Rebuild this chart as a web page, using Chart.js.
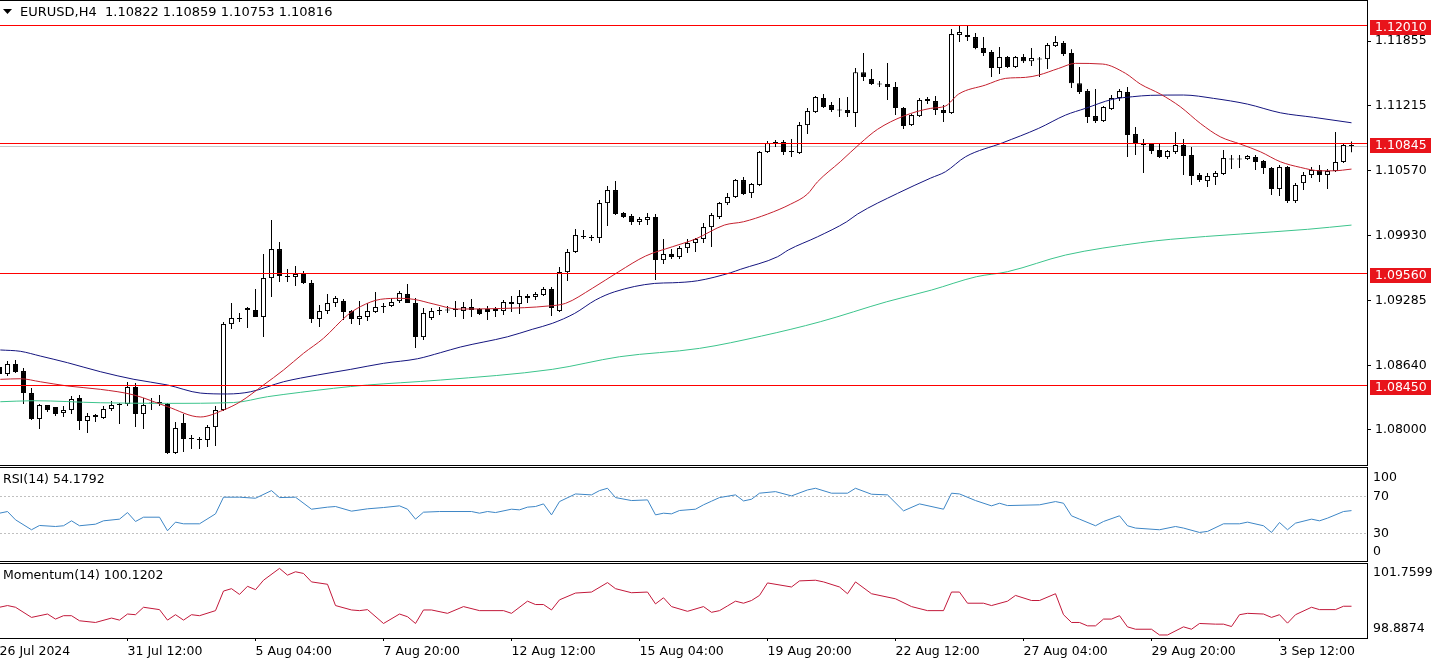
<!DOCTYPE html>
<html>
<head>
<meta charset="utf-8">
<title>EURUSD,H4</title>
<script src="https://cdn.jsdelivr.net/npm/chart.js@4.4.1/dist/chart.umd.min.js"></script>
<style>
  html, body { margin: 0; padding: 0; background: #fff; overflow: hidden; }
  #wrap { position: relative; width: 1435px; height: 660px; background: #fff; }
  #wrap canvas { position: absolute; left: 0; }
</style>
</head>
<body>
<div id="wrap">
  <canvas id="mainChart" width="1435" height="466" style="top:0"></canvas>
  <canvas id="rsiChart" width="1435" height="95" style="top:467px"></canvas>
  <canvas id="momChart" width="1435" height="97" style="top:563px"></canvas>
</div>
<script>
const symbolName = 'EURUSD,H4';

// time axis: one label every 16 H4 bars
const timeLabels = ['26 Jul 2024', '31 Jul 12:00', '5 Aug 04:00', '7 Aug 20:00', '12 Aug 12:00',
  '15 Aug 04:00', '19 Aug 20:00', '22 Aug 12:00', '27 Aug 04:00', '29 Aug 20:00', '3 Sep 12:00'];
const timeLabelBars = [0, 16, 32, 48, 64, 80, 96, 112, 128, 144, 160];

const priceTicks = [1.08000, 1.08640, 1.09285, 1.09930, 1.10570, 1.11215, 1.11855];
const levels = [1.12010, 1.10845, 1.09560, 1.08450];

const opens = [
  1.08624,1.08555,1.08654,1.08584,1.08366,1.08109,1.08247,1.08228,1.08168,1.08198,
  1.08317,1.08089,1.08148,1.08119,1.08208,1.08257,1.08257,1.08426,1.08158,1.08262,
  1.08267,1.08257,1.07772,1.08069,1.07911,1.07911,1.07901,1.08029,1.08198,1.09050,
  1.09100,1.09209,1.09189,1.09120,1.09506,1.09793,1.09521,1.09516,1.09546,1.09456,
  1.09100,1.09179,1.09258,1.09278,1.09179,1.09100,1.09120,1.09169,1.09219,1.09229,
  1.09278,1.09347,1.09258,1.08921,1.09110,1.09179,1.09184,1.09189,1.09179,1.09219,
  1.09199,1.09199,1.09199,1.09179,1.09268,1.09248,1.09328,1.09318,1.09338,1.09397,
  1.09179,1.09565,1.09764,1.09917,1.09907,1.09902,1.10249,1.10378,1.10150,1.10120,
  1.10061,1.10081,1.10111,1.09684,1.09744,1.09714,1.09803,1.09853,1.09893,1.10011,
  1.10111,1.10249,1.10309,1.10477,1.10348,1.10428,1.10755,1.10844,1.10854,1.10760,
  1.10745,1.11022,1.11151,1.11290,1.11220,1.11171,1.11171,1.11141,1.11547,1.11478,
  1.11429,1.11429,1.11399,1.11191,1.11022,1.11111,1.11280,1.11260,1.11171,1.11141,
  1.11914,1.11914,1.11894,1.11785,1.11746,1.11587,1.11696,1.11597,1.11696,1.11656,
  1.11671,1.11676,1.11805,1.11835,1.11736,1.11438,1.11359,1.11111,1.11062,1.11181,
  1.11290,1.11349,1.10933,1.10834,1.10834,1.10775,1.10705,1.10755,1.10824,1.10725,
  1.10527,1.10467,1.10507,1.10537,1.10680,1.10685,1.10685,1.10705,1.10665,1.10596,
  1.10388,1.10606,1.10269,1.10447,1.10527,1.10576,1.10527,1.10566,1.10656,1.10822];
const highs = [
  1.08674,1.08683,1.08693,1.08614,1.08416,1.08257,1.08247,1.08228,1.08238,1.08337,
  1.08347,1.08168,1.08158,1.08238,1.08287,1.08267,1.08475,1.08465,1.08317,1.08317,
  1.08347,1.08267,1.08079,1.08158,1.07950,1.07930,1.08049,1.08238,1.09070,1.09258,
  1.09159,1.09219,1.09397,1.09744,1.10081,1.09863,1.09595,1.09625,1.09575,1.09486,
  1.09238,1.09347,1.09328,1.09298,1.09189,1.09278,1.09258,1.09367,1.09258,1.09308,
  1.09377,1.09447,1.09308,1.09209,1.09209,1.09219,1.09229,1.09278,1.09268,1.09298,
  1.09209,1.09229,1.09219,1.09288,1.09328,1.09387,1.09347,1.09367,1.09417,1.09417,
  1.09615,1.09793,1.09992,1.09982,1.09932,1.10279,1.10418,1.10467,1.10160,1.10140,
  1.10111,1.10150,1.10140,1.09893,1.09793,1.09823,1.09893,1.09902,1.10051,1.10150,
  1.10259,1.10348,1.10487,1.10507,1.10447,1.10765,1.10864,1.10874,1.10874,1.10884,
  1.11052,1.11191,1.11310,1.11329,1.11250,1.11290,1.11300,1.11587,1.11736,1.11577,
  1.11458,1.11637,1.11448,1.11201,1.11131,1.11290,1.11300,1.11310,1.11220,1.11974,
  1.12013,1.12003,1.11934,1.11894,1.11766,1.11795,1.11706,1.11706,1.11726,1.11785,
  1.11696,1.11835,1.11904,1.11855,1.11775,1.11597,1.11379,1.11379,1.11211,1.11320,
  1.11379,1.11399,1.11002,1.10884,1.10844,1.10834,1.10775,1.10953,1.10884,1.10804,
  1.10547,1.10547,1.10566,1.10775,1.10725,1.10725,1.10725,1.10725,1.10675,1.10606,
  1.10626,1.10616,1.10447,1.10556,1.10606,1.10626,1.10586,1.10953,1.10834,1.10859];
const lows = [
  1.08515,1.08535,1.08565,1.08257,1.08099,1.08010,1.08178,1.08138,1.08129,1.08158,
  1.08000,1.07970,1.08079,1.08109,1.08188,1.08059,1.08238,1.08029,1.08010,1.08198,
  1.08238,1.07762,1.07762,1.07782,1.07811,1.07811,1.07831,1.07841,1.08188,1.09001,
  1.09070,1.09011,1.09120,1.08921,1.09318,1.09466,1.09466,1.09427,1.09447,1.09060,
  1.09020,1.09149,1.09219,1.09090,1.09050,1.09040,1.09080,1.09159,1.09159,1.09219,
  1.09258,1.09258,1.08812,1.08892,1.09090,1.09139,1.09159,1.09120,1.09100,1.09120,
  1.09139,1.09090,1.09120,1.09139,1.09169,1.09149,1.09258,1.09288,1.09328,1.09129,
  1.09169,1.09476,1.09754,1.09893,1.09873,1.09853,1.10021,1.10130,1.10101,1.10031,
  1.10031,1.10031,1.09486,1.09645,1.09694,1.09694,1.09754,1.09764,1.09853,1.09813,
  1.10091,1.10229,1.10299,1.10329,1.10299,1.10418,1.10745,1.10804,1.10725,1.10705,
  1.10735,1.10933,1.11141,1.11191,1.11151,1.11102,1.11102,1.11002,1.11458,1.11419,
  1.11399,1.11270,1.11121,1.10983,1.11012,1.11102,1.11230,1.11121,1.11052,1.11131,
  1.11845,1.11855,1.11775,1.11706,1.11498,1.11528,1.11587,1.11587,1.11637,1.11607,
  1.11498,1.11577,1.11795,1.11706,1.11389,1.11329,1.11042,1.11042,1.11052,1.11171,
  1.11260,1.10705,1.10725,1.10547,1.10735,1.10695,1.10685,1.10735,1.10527,1.10428,
  1.10457,1.10408,1.10428,1.10527,1.10586,1.10596,1.10675,1.10576,1.10537,1.10329,
  1.10319,1.10249,1.10249,1.10378,1.10497,1.10457,1.10388,1.10556,1.10646,1.10753];
const closes = [
  1.08555,1.08654,1.08574,1.08366,1.08109,1.08247,1.08198,1.08158,1.08198,1.08307,
  1.08089,1.08138,1.08129,1.08208,1.08247,1.08247,1.08426,1.08158,1.08247,1.08267,
  1.08277,1.07772,1.08020,1.07911,1.07915,1.07901,1.08029,1.08198,1.09050,1.09110,
  1.09110,1.09189,1.09120,1.09506,1.09793,1.09526,1.09516,1.09546,1.09456,1.09100,
  1.09179,1.09258,1.09308,1.09169,1.09100,1.09129,1.09179,1.09219,1.09224,1.09268,
  1.09357,1.09258,1.08921,1.09159,1.09179,1.09184,1.09189,1.09199,1.09219,1.09189,
  1.09149,1.09169,1.09179,1.09268,1.09248,1.09328,1.09308,1.09347,1.09397,1.09209,
  1.09565,1.09764,1.09932,1.09912,1.09902,1.10249,1.10378,1.10140,1.10111,1.10061,
  1.10091,1.10111,1.09684,1.09744,1.09714,1.09803,1.09853,1.09893,1.10011,1.10130,
  1.10249,1.10309,1.10477,1.10338,1.10438,1.10755,1.10844,1.10849,1.10755,1.10755,
  1.11022,1.11161,1.11300,1.11201,1.11171,1.11166,1.11141,1.11547,1.11498,1.11429,
  1.11424,1.11399,1.11191,1.11012,1.11121,1.11270,1.11260,1.11171,1.11141,1.11924,
  1.11944,1.11894,1.11785,1.11736,1.11587,1.11696,1.11597,1.11696,1.11656,1.11686,
  1.11676,1.11815,1.11845,1.11726,1.11438,1.11349,1.11102,1.11062,1.11201,1.11290,
  1.11359,1.10923,1.10834,1.10824,1.10765,1.10705,1.10765,1.10824,1.10715,1.10517,
  1.10477,1.10517,1.10547,1.10695,1.10685,1.10680,1.10715,1.10656,1.10596,1.10388,
  1.10606,1.10269,1.10428,1.10527,1.10576,1.10527,1.10566,1.10656,1.10824,1.10816];

// moving averages (bar position, price)
const maRedBars = [0.1,2.6,5.1,8.5,12.6,16.8,21,25.1,28,30.1,33,35.5,38,40.5,43.5,45.1,47.6,50.1,51.8,54.3,
  57.3,62.6,68.6,70.75,74.1,77.4,80.75,84.1,87,90.6,93,96,98.9,101,102.25,105.1,107.6,109.75,113,116.4,
  118.25,119.9,123.25,125.75,128.25,129.9,132.4,134.5,137.9,140.75,142.6,145.1,147.6,150.1,152.6,155.1,157.6,160.1,162.6,165.1,
  166.75,169];
const maRedVals = [1.08502,1.08508,1.08478,1.08436,1.08403,1.08347,1.08231,1.08129,1.08198,1.08280,
  1.08446,1.08594,1.08760,1.08909,1.09139,1.09222,1.09295,1.09305,1.09295,1.09248,
  1.09199,1.09204,1.09229,1.09255,1.09404,1.09569,1.09724,1.09816,1.09893,1.10031,
  1.10064,1.10140,1.10239,1.10339,1.10460,1.10659,1.10841,1.10980,1.11111,1.11188,
  1.11211,1.11330,1.11419,1.11485,1.11495,1.11518,1.11584,1.11634,1.11627,1.11535,
  1.11429,1.11330,1.11204,1.11039,1.10906,1.10834,1.10758,1.10659,1.10603,1.10569,
  1.10569,1.10586];
const maBlueBars = [0.1,2.6,5.1,8.5,12.6,16.8,21,25.1,28.5,31.4,35.5,39.75,43.9,48,52.25,55.1,57.6,63.5,66.6,69.1,
  71.9,74.5,76.9,81.9,84.1,87.25,91.4,92.6,97.25,98.6,102.25,105.9,107.25,112.25,116.4,118.25,120.75,125.4,129.9,133.25,
  135.75,139.1,141.6,143.9,148,151.75,156,160.1,164.25,169];
const maBlueVals = [1.08793,1.08780,1.08733,1.08667,1.08578,1.08502,1.08446,1.08366,1.08357,1.08379,
  1.08478,1.08545,1.08601,1.08661,1.08706,1.08766,1.08822,1.08924,1.08998,1.09057,
  1.09156,1.09288,1.09370,1.09453,1.09459,1.09479,1.09559,1.09592,1.09717,1.09784,
  1.09915,1.10064,1.10140,1.10345,1.10497,1.10560,1.10708,1.10847,1.10990,1.11121,
  1.11188,1.11277,1.11303,1.11317,1.11320,1.11287,1.11230,1.11144,1.11099,1.11045];
const maGreenBars = [0.1,4.25,12.6,21,29.25,33.5,37.6,41.75,46,50.1,55.1,69.1,77.5,87.5,95.25,102.6,110.9,116.5,122.1,126,
  133.25,142.6,146.4,155.1,163.5,169];
const maGreenVals = [1.08280,1.08290,1.08270,1.08264,1.08272,1.08330,1.08373,1.08413,1.08446,1.08468,
  1.08495,1.08601,1.08726,1.08809,1.08931,1.09073,1.09271,1.09387,1.09519,1.09569,
  1.09734,1.09856,1.09890,1.09942,1.09989,1.10031];

// RSI(14)
const rsiBars = [0,1,2,4,5,7,8,9,10,12,13,15,16,17,18,20,21,22,23,25,27,28,30,32,34,35,37,39,41,42,
  44,46,48,50,51,52,53,55,59,60,61,62,64,65,66,67,68,69,70,72,74,75,76,77,79,81,82,83,84,85,
  87,88,89,90,92,93,94,95,97,99,101,102,104,106,107,109,111,113,115,118,119,120,122,124,125,126,130,132,133,134,
  135,137,138,140,141,142,145,147,148,150,151,153,155,156,158,159,160,161,162,164,165,166,168,169];
const rsiVals = [51.4,53.2,44.3,33.6,38.2,37.1,37.9,43.2,37.9,39.6,43.2,45,52.1,42.5,47.1,47.1,32.5,41.8,40,40,
  50.7,68.6,68.6,67.5,75.7,68.2,68.6,55.7,57.9,58.6,53.6,56.1,57.5,59.3,55.7,45,52.5,53.2,53.2,51.4,
  53.2,52.1,55.7,55,57.9,58.6,61.4,49.6,63.9,72.1,71.1,75.7,78.2,68.2,65,65.7,49.6,51.4,50.7,54.3,
  55.7,60.4,64.3,68.2,71.1,64.6,66.4,72.9,74.6,70,76.4,78.2,72.9,72.9,78.2,71.8,71.1,53.9,61.4,55.7,
  72.9,72.1,65,59.3,62.1,59.6,60.4,63.9,62.1,48.6,45,37.9,42.5,48.6,37.9,35.4,33.6,37.1,35.4,30.7,
  31.8,40,40,41.8,37.9,30.7,41.4,33.6,40.7,45,43.2,46.1,53.2,54.1792];
const rsiLevels = [70, 30];
const rsiScaleLabels = [100, 70, 30, 0];

// Momentum(14)
const momBars = [0,1,2,4,6,7,8,9,10,12,14,15,16,17,18,20,21,22,23,24,25,27,28,29,30,31,32,33,35,36,
  37,38,39,41,42,44,45,46,48,50,51,52,53,54,56,58,60,63,64,66,67,68,69,70,72,74,76,77,79,81,
  82,83,84,86,88,89,90,91,92,93,94,95,96,99,100,102,103,105,106,107,109,112,114,116,118,119,120,121,123,124,
  126,127,129,130,132,133,134,135,136,137,138,139,140,141,142,144,145,146,148,149,150,152,153,154,155,156,158,159,160,161,
  162,164,165,167,168,169];
const momVals = [100.081,100.147,100.081,99.687,99.818,99.622,99.753,99.753,99.556,99.490,
  99.661,99.582,99.818,99.792,100.081,99.989,99.582,99.792,99.582,99.792,
  99.753,99.950,100.710,100.802,100.579,100.894,100.763,101.130,101.589,101.327,
  101.458,101.393,101.065,100.973,100.147,99.976,99.950,99.989,99.451,99.818,
  99.714,99.451,99.976,99.976,99.845,100.107,99.950,99.950,99.845,100.317,
  100.186,100.186,99.976,100.369,100.632,100.671,101.038,100.802,100.645,100.671,
  100.212,100.448,100.107,99.923,100.107,99.884,99.950,100.133,100.317,100.238,
  100.343,100.540,101.025,100.868,101.104,101.130,101.065,100.868,100.606,101.065,
  100.606,100.409,100.107,99.950,99.950,100.671,100.671,100.238,100.238,100.147,
  100.317,100.540,100.343,100.343,100.606,99.792,99.490,99.490,99.359,99.359,
  99.622,99.622,99.753,99.320,99.228,99.228,99.005,99.005,99.320,99.228,
  99.451,99.425,99.425,99.333,99.792,99.845,99.818,99.687,99.792,99.464,
  99.792,100.081,99.989,99.989,100.120,100.1202];
const momScaleLabels = [101.7599, 98.8874];

const FONT = '12.5px "DejaVu Sans", sans-serif';
const HEADER_FONT = '13px "DejaVu Sans", sans-serif';
Chart.defaults.font.family = '"DejaVu Sans", sans-serif';
Chart.defaults.font.size = 12.5;
Chart.defaults.color = '#000';

const last = closes.length - 1;
const bars = closes.map((c, i) => i);
const zip = (xs, ys) => xs.map((x, i) => ({ x: x, y: ys[i] }));

// visible window: 8 px per bar, last bar leaves a small right margin
function xScale(show) {
  return {
    type: 'linear', min: 0.0625, max: 170.9375, offset: false, display: show,
    afterBuildTicks: s => { s.ticks = timeLabelBars.map(v => ({ value: v })); },
    afterFit: s => {
      if (show) s.height = 22;
      s.paddingLeft = 0; s.paddingRight = 0;
    },
    ticks: { autoSkip: false, maxRotation: 0, minRotation: 0, align: 'start', padding: 3,
      callback: (v, i) => timeLabels[i] },
    grid: { drawOnChartArea: false, drawTicks: true, tickLength: 3, color: '#000' },
    border: { display: false }
  };
}

function yScale(opts) {
  return Object.assign({
    position: 'right',
    afterFit: s => { s.width = 68; s.paddingTop = 0; s.paddingBottom = 0; },
    ticks: { display: false },
    grid: { display: false },
    border: { display: false }
  }, opts);
}

function drawFrame(chart) {
  const { ctx, chartArea: a } = chart;
  ctx.save();
  ctx.strokeStyle = '#000';
  ctx.lineWidth = 1;
  ctx.beginPath();
  ctx.moveTo(a.left, a.top - 0.5); ctx.lineTo(a.right + 1, a.top - 0.5);
  ctx.moveTo(a.right + 0.5, a.top - 1); ctx.lineTo(a.right + 0.5, a.bottom + 1);
  ctx.moveTo(a.left, a.bottom + 0.5); ctx.lineTo(a.right + 1, a.bottom + 0.5);
  ctx.stroke();
  ctx.restore();
}

// 1px horizontal rule across the plot area
function hRule(ctx, a, py, color) {
  ctx.fillStyle = color;
  ctx.fillRect(a.left, Math.round(py), a.right - a.left, 1);
}

const common = {
  responsive: false,
  animation: false,
  devicePixelRatio: 1,
  events: [],
  plugins: { legend: { display: false }, tooltip: { enabled: false } }
};

// ---- price panel ----
const mainPlugin = {
  id: 'mainPanel',
  beforeDatasetsDraw(chart) {
    const { ctx, chartArea: a, scales: { y } } = chart;
    ctx.save();
    hRule(ctx, a, y.getPixelForValue(closes[last]), '#c8c8c8');
    ctx.restore();
  },
  afterDatasetsDraw(chart) {
    const { ctx, chartArea: a, scales: { y } } = chart;
    ctx.save();
    levels.forEach(v => hRule(ctx, a, y.getPixelForValue(v), '#ff0000'));
    ctx.restore();
  },
  afterDraw(chart) {
    const { ctx, chartArea: a, scales: { y } } = chart;
    drawFrame(chart);
    ctx.save();
    ctx.font = FONT;
    ctx.textBaseline = 'middle';
    ctx.textAlign = 'left';
    levels.forEach(v => {
      const py = Math.round(y.getPixelForValue(v));
      ctx.fillStyle = '#e8141b';
      ctx.fillRect(a.right + 3, py - 5, 61, 15);
      ctx.fillStyle = '#fff';
      ctx.fillText(v.toFixed(5), a.right + 8, py + 2.5);
    });
    // header
    ctx.fillStyle = '#000';
    ctx.beginPath();
    ctx.moveTo(3, 9); ctx.lineTo(12, 9); ctx.lineTo(7.5, 14); ctx.closePath();
    ctx.fill();
    ctx.font = HEADER_FONT;
    const ohlc = [opens[last], highs[last], lows[last], closes[last]].map(v => v.toFixed(5)).join(' ');
    ctx.fillText(symbolName + '  ' + ohlc, 20, 13);
    ctx.restore();
  }
};

new Chart(document.getElementById('mainChart'), {
  type: 'line',
  data: {
    datasets: [
      { label: 'MA fast', data: zip(maRedBars, maRedVals), borderColor: '#c4202e', borderWidth: 1,
        pointRadius: 0, cubicInterpolationMode: 'monotone', order: 0 },
      { label: 'MA mid', data: zip(maBlueBars, maBlueVals), borderColor: '#15157f', borderWidth: 1,
        pointRadius: 0, cubicInterpolationMode: 'monotone', order: 0 },
      { label: 'MA slow', data: zip(maGreenBars, maGreenVals), borderColor: '#3cc48c', borderWidth: 1,
        pointRadius: 0, cubicInterpolationMode: 'monotone', order: 0 },
      { type: 'bar', label: 'bodies', order: 1, grouped: false,
        data: bars.map(i => ({ x: i, y: [opens[i], closes[i]] })),
        backgroundColor: bars.map(i => closes[i] >= opens[i] ? '#ffffff' : '#000000'),
        borderColor: '#000', borderWidth: 1, borderSkipped: false,
        barThickness: 5, minBarLength: 1, inflateAmount: 0 },
      { type: 'bar', label: 'wicks', order: 2, grouped: false,
        data: bars.map(i => ({ x: i, y: [lows[i], highs[i]] })),
        backgroundColor: '#000', borderWidth: 0, barThickness: 1, inflateAmount: 0 }
    ]
  },
  options: Object.assign({}, common, {
    layout: { padding: { top: 1, bottom: 1, left: 0, right: 0 } },
    scales: {
      x: xScale(false),
      y: yScale({
        min: 1.07653, max: 1.12252,
        afterBuildTicks: s => { s.ticks = priceTicks.map(v => ({ value: v })); },
        ticks: { display: true, autoSkip: false, padding: 4, callback: v => Number(v).toFixed(5) },
        grid: { display: true, drawOnChartArea: false, drawTicks: true, tickLength: 4, color: '#000' }
      })
    }
  }),
  plugins: [mainPlugin]
});

// ---- RSI panel ----
const rsiPlugin = {
  id: 'rsiPanel',
  beforeDatasetsDraw(chart) {
    const { ctx, chartArea: a, scales: { y } } = chart;
    ctx.save();
    ctx.strokeStyle = '#c0c0c0';
    ctx.lineWidth = 1;
    ctx.setLineDash([2, 2]);
    rsiLevels.forEach(v => {
      const py = Math.round(y.getPixelForValue(v)) + 0.5;
      ctx.beginPath();
      ctx.moveTo(a.left, py);
      ctx.lineTo(a.right, py);
      ctx.stroke();
    });
    ctx.restore();
  },
  afterDraw(chart) {
    const { ctx, chartArea: a, scales: { y } } = chart;
    drawFrame(chart);
    ctx.save();
    ctx.font = FONT;
    ctx.fillStyle = '#000';
    ctx.textBaseline = 'middle';
    ctx.fillText('RSI(14) ' + rsiVals[rsiVals.length - 1].toFixed(4), 3, a.top + 12);
    rsiScaleLabels.forEach(v => {
      let py = y.getPixelForValue(v);
      if (v === y.max) py += 10;
      else if (v === y.min) py -= 9;
      else py += 1;
      ctx.fillText(String(v), a.right + 6, py);
    });
    ctx.restore();
  }
};

new Chart(document.getElementById('rsiChart'), {
  type: 'line',
  data: {
    datasets: [{ label: 'RSI(14)', data: zip(rsiBars, rsiVals), borderColor: '#3d86c6',
      borderWidth: 1, pointRadius: 0, tension: 0 }]
  },
  options: Object.assign({}, common, {
    layout: { padding: { top: 1, bottom: 1, left: 0, right: 0 } },
    scales: { x: xScale(false), y: yScale({ min: 0, max: 100 }) }
  }),
  plugins: [rsiPlugin]
});

// ---- Momentum panel ----
const momPlugin = {
  id: 'momPanel',
  afterDraw(chart) {
    const { ctx, chartArea: a, scales: { y } } = chart;
    drawFrame(chart);
    ctx.save();
    ctx.font = FONT;
    ctx.fillStyle = '#000';
    ctx.textBaseline = 'middle';
    ctx.fillText('Momentum(14) ' + momVals[momVals.length - 1].toFixed(4), 3, a.top + 12);
    momScaleLabels.forEach(v => {
      let py = y.getPixelForValue(v);
      py += (v === y.max) ? 9 : -9;
      ctx.fillText(v.toFixed(4), a.right + 6, py);
    });
    ctx.restore();
  }
};

new Chart(document.getElementById('momChart'), {
  type: 'line',
  data: {
    datasets: [{ label: 'Momentum(14)', data: zip(momBars, momVals), borderColor: '#c2183a',
      borderWidth: 1, pointRadius: 0, tension: 0 }]
  },
  options: Object.assign({}, common, {
    layout: { padding: { top: 1, bottom: 0, left: 0, right: 0 } },
    scales: { x: xScale(true), y: yScale({ min: 98.8874, max: 101.7599 }) }
  }),
  plugins: [momPlugin]
});
</script>
</body>
</html>
